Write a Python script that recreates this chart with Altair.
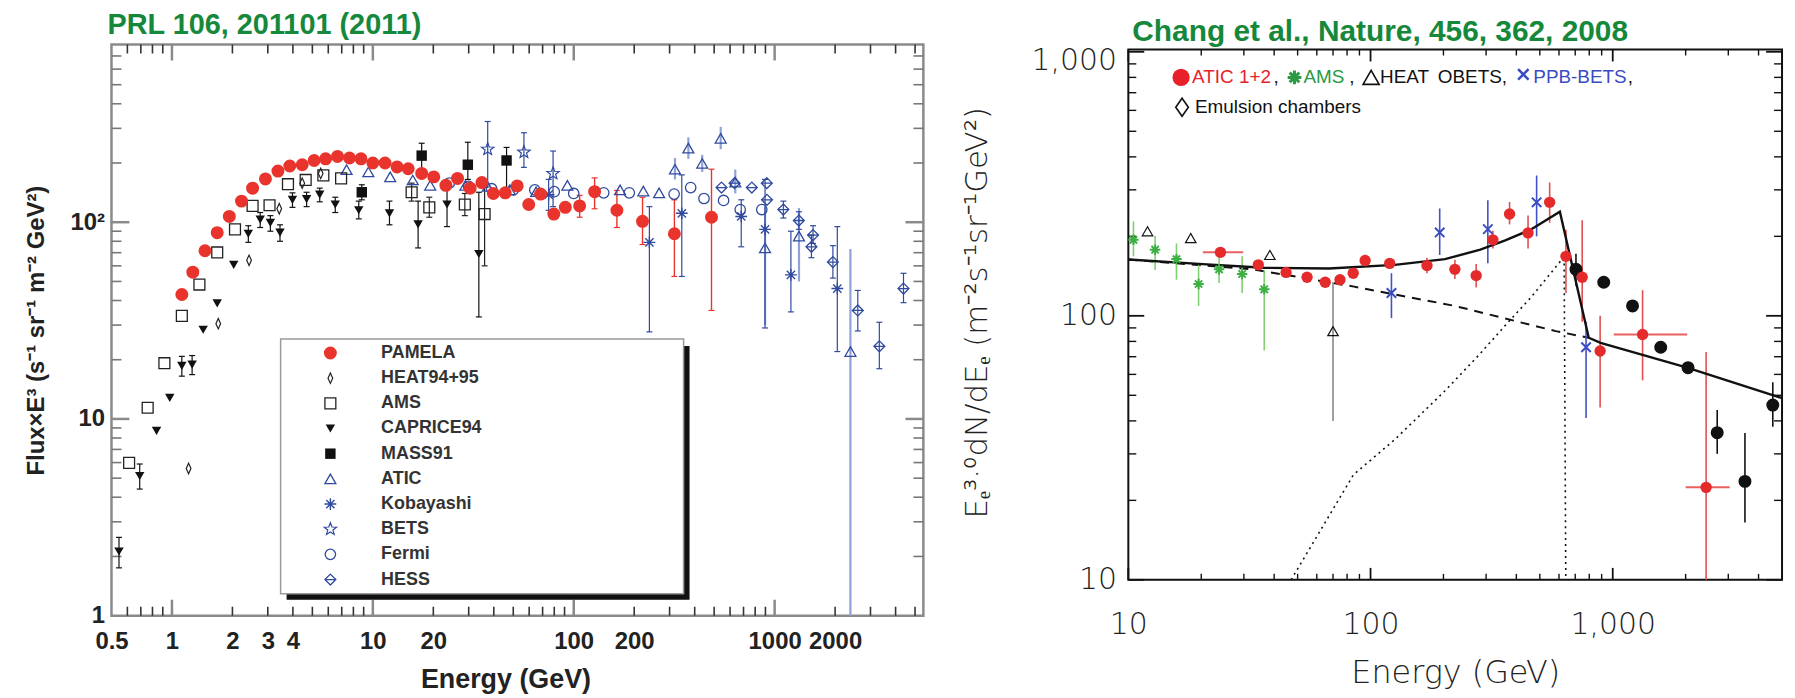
import math
import altair as alt
import pandas as pd

# ---------------- LEFT PANEL DATA (PRL 106, 201101) ----------------
pamela_E = [1.12, 1.27, 1.46, 1.68, 1.93, 2.22, 2.52, 2.92, 3.37, 3.86, 4.45, 5.10, 5.82, 6.67, 7.65, 8.73,
            10.0, 11.5, 13.2, 15.0, 17.5, 20.1, 23.1, 26.4, 30.5, 34.9, 39.8, 45.6, 52.3, 59.7, 68.4, 79.6,
            90.8, 107, 127, 164, 220, 317, 485]
pamela_F = [42.9, 55.7, 71.6, 88.5, 107, 128, 149, 166, 182, 193, 196, 206, 210, 216, 212, 210,
            200, 200, 191, 187, 177, 170, 154, 167, 149, 159, 140, 141, 153, 123, 139, 110,
            119, 121, 143, 115, 101, 87.4, 106]
pamela_errE = [107, 127, 164, 220, 317, 485]
pamela_errLo = [106, 117, 94, 77, 53, 35.6]
pamela_errHi = [137, 168, 145, 134, 130, 186]

heat_E = [1.21, 1.70, 2.42, 3.42, 4.45, 5.5]
heat_F = [5.6, 30.5, 64, 117, 158, 177]

ams_E = [0.612, 0.757, 0.917, 1.12, 1.37, 1.68, 2.06, 2.52, 3.06, 3.78, 4.63, 5.67, 6.95, 15.6, 19.1, 28.7, 36.0]
ams_F = [5.98, 11.4, 19.2, 33.4, 48.2, 70.2, 91.9, 121, 122, 156, 164, 173, 167, 142, 119, 123, 110]
ams_errE = [15.6, 19.1, 28.7, 36.0]
ams_errLo = [128, 106, 108, 60]
ams_errHi = [158, 134, 140, 150]

caprice_E = [0.545, 0.691, 0.838, 0.975, 1.12, 1.26, 1.43, 1.68, 2.03, 2.40, 2.75, 3.09, 3.45, 3.98, 4.68,
             5.44, 6.50, 8.51, 12.1, 16.8, 23.4, 33.7]
caprice_F = [2.12, 5.13, 8.7, 12.8, 18.6, 18.9, 28.4, 38.7, 60.7, 87.4, 103, 99.3, 88.5, 130, 131,
             138, 123, 115, 111, 97.5, 123, 68.9]
caprice_errE = [0.545, 0.691, 1.12, 1.26, 2.40, 2.75, 3.09, 3.45, 3.98, 4.68, 5.44, 6.50, 8.51, 12.1, 16.8, 23.4, 33.7]
caprice_errLo = [1.75, 4.4, 16.5, 16.8, 79, 94, 90, 80, 119, 120, 127, 112, 104, 97, 74, 95, 33]
caprice_errHi = [2.5, 5.9, 20.8, 21.0, 96, 112, 108, 97, 141, 142, 149, 134, 128, 128, 128, 160, 142]

mass_E = [8.81, 17.5, 29.7, 46.3]
mass_F = [142, 218, 196, 206]
mass_errLo = [130, 182, 165, 150]
mass_errHi = [155, 252, 255, 240]

atic_E = [7.4, 9.5, 12.2, 15.8, 19.3, 28.9, 37.3, 48, 65, 93, 170, 222, 266, 319, 372, 436, 539, 637,
          896, 1322, 2384]
atic_F = [185, 180, 170, 164, 154, 154, 152, 146, 143, 154, 146, 144, 141, 186, 238, 199, 267, 160,
          74, 85, 22]
atic_errE = [319, 372, 436, 539, 637, 896, 1322, 2384]
atic_errLo = [165, 210, 180, 235, 140, 30, 50, 1]
atic_errHi = [212, 270, 220, 305, 185, 120, 118, 73]

koba_E = [75, 238, 345, 682, 896, 1205, 2051]
koba_F = [138, 79, 111, 107, 92, 54, 46]
koba_errLo = [115, 27.7, 53, 75, 29, 35, 22]
koba_errHi = [165, 120, 174, 130, 165, 90, 95]

bets_E = [37.3, 56.5, 78.9]
bets_F = [235, 227, 177]
bets_errLo = [151, 190, 120]
bets_errHi = [325, 285, 230]

fermi_E = [24, 30, 39, 50, 64, 80, 100, 141, 189, 316, 382, 445, 557, 674, 863]
fermi_F = [158, 152, 148, 146, 146, 143, 140, 141, 141, 139, 150, 132, 129, 116, 116]

hess_E = [544, 632, 770, 914, 916, 1105, 1320, 1525, 1553, 1950, 2594, 3320, 4380]
hess_F = [150, 158, 150, 158, 130, 116, 102, 75, 86, 62.7, 35.6, 23.4, 46]
hess_errE = [1105, 1320, 1525, 1553, 1950, 2594, 3320, 4380]
hess_errLo = [105, 92, 66, 78, 52, 28, 18, 39]
hess_errHi = [128, 113, 86, 96, 76, 45, 31, 55]

left_x_labels = [0.5, 1, 2, 3, 4, 10, 20, 100, 200, 1000, 2000]
left_y_labels = [1, 10, 100]
left_x_major = [1, 10, 100, 1000]
left_x_minor = [0.6, 0.7, 0.8, 0.9, 2, 3, 4, 5, 6, 7, 8, 9, 20, 30, 40, 50, 60, 70, 80, 90,
                200, 300, 400, 500, 600, 700, 800, 900, 2000, 3000, 4000, 5000]
left_y_major = [10, 100]
left_y_minor = [2, 3, 4, 5, 6, 7, 8, 9, 20, 30, 40, 50, 60, 70, 80, 90, 200, 300, 400, 500, 600, 700]
legend_names = ["PAMELA", "HEAT94+95", "AMS", "CAPRICE94", "MASS91", "ATIC", "Kobayashi", "BETS", "Fermi", "HESS"]

# ---------------- RIGHT PANEL DATA (Chang et al. 2008) ----------------
atic12_E = [24.0, 34.4, 44.8, 54.7, 65.0, 74.8, 84.8, 95.0, 120, 171, 223, 273, 320, 375, 447, 549, 641, 748,
            887, 1328, 2430]
atic12_F = [174, 156, 146, 140, 134, 137, 145, 162, 158, 155, 150, 142, 194, 243, 206, 269, 168, 140,
            73.6, 85, 22.4]
atic12_errE = [171, 223, 273, 320, 375, 447, 549, 641, 748, 887, 1328, 2430]
atic12_errLo = [145, 138, 128, 180, 222, 180, 225, 122, 95, 45, 57, 10]
atic12_errHi = [166, 163, 157, 210, 270, 240, 320, 212, 230, 100, 125, 73]
atic12_hE = [24.0, 1328, 2430]
atic12_hF = [174, 85, 22.4]
atic12_hLo = [20.3, 1010, 2000]
atic12_hHi = [29.8, 2030, 3040]

emul_E = [705, 918, 1207, 1578, 2046, 2700, 3515, 4580]
emul_F = [150, 134, 109, 76, 63.6, 36.1, 23.6, 45.9]
emul_errE = [705, 2700, 3515, 4580]
emul_errLo = [130, 30, 16.5, 38]
emul_errHi = [172, 44, 36, 56]

amsR_E = [10.5, 12.9, 15.8, 19.5, 23.7, 29.5, 36.4]
amsR_F = [194, 178, 164, 132, 150, 144, 126]
amsR_errLo = [168, 149, 137, 109, 133, 122, 74]
amsR_errHi = [228, 201, 188, 158, 176, 168, 149]

heatR_E = [12.0, 18.1, 38.4, 70.0]
heatR_F = [209, 197, 170, 87.5]
heatR_errE = [70.0]
heatR_errLo = [40]
heatR_errHi = [134]

ppb_E = [122, 193, 305, 485, 776]
ppb_F = [122, 207, 213, 269, 76]
ppb_errLo = [98, 170, 158, 200, 41]
ppb_errHi = [145, 255, 274, 340, 95]

fit_E = [10, 20.3, 36.1, 67.3, 126, 203, 284, 360, 458, 605, 796, 891, 2028, 5000]
fit_F = [163.5, 157, 152, 151, 156, 164, 178, 193, 212, 248, 82.6, 79, 63.7, 48.8]
bkg_E = [10, 32.7, 85.5, 223, 582, 796]
bkg_F = [163.5, 150, 129, 109, 87.5, 82.6]
src_E = [47, 85, 126, 203, 284, 360, 458, 605, 630, 640]
src_F = [10, 25, 34, 52, 72, 92, 117, 160, 165, 10]

right_labels = [10, 100, 1000]
right_x_major = [10, 100, 1000]
right_x_minor = [20, 30, 40, 50, 60, 70, 80, 90, 200, 300, 400, 500, 600, 700, 800, 900, 2000, 3000, 4000]
right_y_major = [10, 100, 1000]
right_y_minor = [20, 30, 40, 50, 60, 70, 80, 90, 200, 300, 400, 500, 600, 700, 800, 900]

# ---------------- STYLE ----------------
RED = "#e8342c"
BLUE = "#2f4a9e"
LBLUE = "#8fa2d8"
GREEN_T = "#16883c"
BOLD_FONT = "Liberation Sans"
THIN_FONT = "DejaVu Sans"

ASTER = "M-1,0L1,0M0,-1L0,1M-0.7,-0.7L0.7,0.7M-0.7,0.7L0.7,-0.7"
XMARK = "M-1,-1L1,1M-1,1L1,-1"
DIAM_N = "M0,-1L0.45,0L0,1L-0.45,0Z"
HESS_SYM = "M0,-1L1,0L0,1L-1,0ZM-1,0L1,0"
DIAM = "M0,-1L0.7,0L0,1L-0.7,0Z"


def star_path():
    pts = []
    for k in range(10):
        r = 1.0 if k % 2 == 0 else 0.42
        a = -math.pi / 2 + k * math.pi / 5
        pts.append(f"{r*math.cos(a):.3f},{r*math.sin(a):.3f}")
    return "M" + "L".join(pts) + "Z"


STAR = star_path()

W1, H1 = 816, 574
# right panel: frame starts TOP2 px below the panel origin so both panels share one origin row
W2, H2, TOP2 = 657, 533, 5
H2T = H2 + TOP2
Y2_TOP = 1020 * 10 ** (TOP2 * math.log10(1020 / 10) / H2)
ONE = pd.DataFrame({"a": [0]})

P1 = dict(
    xs=alt.Scale(type="log", domain=[0.5, 5500], nice=False),
    ys=alt.Scale(type="log", domain=[1, 800], nice=False),
    ax=alt.Axis(values=left_x_labels, format="~g", labelOverlap=False, labelFlush=False, ticks=False,
                tickSize=0, domain=False, grid=False, labelFont=BOLD_FONT, labelFontSize=24,
                labelFontWeight="bold", labelColor="#222", labelPadding=14, title="Energy (GeV)",
                titleFont=BOLD_FONT, titleFontSize=27, titleFontWeight="bold", titleColor="#222",
                titlePadding=13, titleX=396),
    ay=alt.Axis(values=left_y_labels, format="~g", labelExpr="datum.value == 100 ? '10²' : datum.label",
                labelOverlap=False, labelFlush=False, ticks=False, tickSize=0, domain=False, grid=False,
                labelFont=BOLD_FONT, labelFontSize=24, labelFontWeight="bold", labelColor="#222",
                labelPadding=7, title="Flux×E³ (s⁻¹ sr⁻¹ m⁻² GeV²)", titleFont=BOLD_FONT,
                titleFontSize=24, titleFontWeight="bold", titleColor="#222", titlePadding=22),
)
P2 = dict(
    xs=alt.Scale(type="log", domain=[10, 5000], nice=False),
    ys=alt.Scale(type="log", domain=[10, Y2_TOP], nice=False),
    ax=alt.Axis(values=right_labels, format=",", labelOverlap=False, labelFlush=False, ticks=False,
                tickSize=0, domain=False, grid=False, labelFont=THIN_FONT, labelFontSize=30,
                labelFontWeight=300, labelColor="#222", labelPadding=30, title="Energy  (GeV)",
                titleFont=THIN_FONT, titleFontSize=32, titleFontWeight=300, titleColor="#222",
                titlePadding=18),
    ay=alt.Axis(values=right_labels, format=",", labelOverlap=False, labelFlush=False, ticks=False,
                tickSize=0, domain=False, grid=False, labelFont=THIN_FONT, labelFontSize=30,
                labelFontWeight=300, labelColor="#222", labelPadding=12,
                labelOffset={"condition": {"test": "datum.value >= 1000", "value": 9}, "value": 0},
                title="Eₑ³·⁰dN/dEₑ  (m⁻²s⁻¹sr⁻¹GeV²)", titleFont=THIN_FONT, titleFontSize=31,
                titleFontWeight=300, titleColor="#222", titlePadding=38),
)


def X(P, f):
    return alt.X(f + ":Q", scale=P["xs"], axis=P["ax"])


def Y(P, f):
    return alt.Y(f + ":Q", scale=P["ys"], axis=P["ay"])


styles_left = {
    "PAMELA": dict(shape="circle", size=170, filled=True, color=RED, strokeWidth=0),
    "HEAT94+95": dict(shape=DIAM_N, size=110, filled=False, color="#222", strokeWidth=1.2),
    "AMS": dict(shape="square", size=120, filled=False, color="#222", strokeWidth=1.3),
    "CAPRICE94": dict(shape="triangle-down", size=90, filled=True, color="#111", strokeWidth=0),
    "MASS91": dict(shape="square", size=110, filled=True, color="#111", strokeWidth=0),
    "ATIC": dict(shape="triangle-up", size=120, filled=False, color=BLUE, strokeWidth=1.3),
    "Kobayashi": dict(shape=ASTER, size=140, filled=False, color=BLUE, strokeWidth=1.4),
    "BETS": dict(shape=STAR, size=170, filled=False, color=BLUE, strokeWidth=1.2),
    "Fermi": dict(shape="circle", size=110, filled=False, color=BLUE, strokeWidth=1.3),
    "HESS": dict(shape=HESS_SYM, size=120, filled=False, color=BLUE, strokeWidth=1.3),
}


def pts(P, E, F, st):
    return alt.Chart(pd.DataFrame({"E": E, "F": F})).mark_point(opacity=1, **st).encode(
        x=X(P, "E"), y=Y(P, "F"))


def vbars(P, E, lo, hi, color, width=1.2, caps=False):
    base = alt.Chart(pd.DataFrame({"E": E, "lo": lo, "hi": hi}))
    out = [base.mark_rule(color=color, strokeWidth=width).encode(x=X(P, "E"), y=Y(P, "lo"), y2="hi:Q")]
    if caps:
        for f in ("lo", "hi"):
            out.append(base.mark_tick(orient="horizontal", size=6, thickness=1.2, color=color, opacity=1).encode(
                x=X(P, "E"), y=Y(P, f)))
    return out


def hbars(P, F, lo, hi, color, width=1.5):
    base = alt.Chart(pd.DataFrame({"F": F, "lo": lo, "hi": hi}))
    return [base.mark_rule(color=color, strokeWidth=width).encode(y=Y(P, "F"), x=X(P, "lo"), x2="hi:Q")]


def xticks(P, vals, top, bottom, length, color, width):
    base = alt.Chart(pd.DataFrame({"v": vals}))
    return [base.mark_rule(color=color, strokeWidth=width).encode(x=X(P, "v"), y=alt.value(bottom), y2=alt.value(bottom - length)),
            base.mark_rule(color=color, strokeWidth=width).encode(x=X(P, "v"), y=alt.value(top), y2=alt.value(top + length))]


def yticks(P, vals, W, length, color, width):
    base = alt.Chart(pd.DataFrame({"v": vals}))
    return [base.mark_rule(color=color, strokeWidth=width).encode(y=Y(P, "v"), x=alt.value(0), x2=alt.value(length)),
            base.mark_rule(color=color, strokeWidth=width).encode(y=Y(P, "v"), x=alt.value(W), x2=alt.value(W - length))]


def fixed_point(x, y, **st):
    return alt.Chart(ONE).mark_point(opacity=1, **st).encode(x=alt.value(x), y=alt.value(y))


def fixed_text(x, y, txt, **st):
    return alt.Chart(ONE).mark_text(align="left", baseline="middle", **st).encode(
        x=alt.value(x), y=alt.value(y), text=alt.value(txt))


# ---------------- LEFT PANEL ----------------
L = []
L.append(alt.Chart(ONE).mark_rect(fill="white", fillOpacity=0, stroke="#8a8a8a", strokeWidth=2.5).encode(
    x=alt.value(0), x2=alt.value(W1), y=alt.value(0), y2=alt.value(H1)))
L += xticks(P1, left_x_major, 0, H1, 16, "#8a8a8a", 2.5)
L += xticks(P1, left_x_minor, 0, H1, 9, "#333", 1.6)
L += yticks(P1, left_y_major, W1, 18, "#8a8a8a", 2.5)
L += yticks(P1, left_y_minor, W1, 10, "#777", 1.6)
L += vbars(P1, atic_errE, atic_errLo, atic_errHi, LBLUE, 2.2)
L += vbars(P1, hess_errE, hess_errLo, hess_errHi, BLUE, 1.2, caps=True)
L += vbars(P1, koba_E, koba_errLo, koba_errHi, BLUE, 1.2, caps=True)
L += vbars(P1, bets_E, bets_errLo, bets_errHi, BLUE, 1.2, caps=True)
L += vbars(P1, ams_errE, ams_errLo, ams_errHi, "#222", 1.2, caps=True)
L += vbars(P1, caprice_errE, caprice_errLo, caprice_errHi, "#111", 1.2, caps=True)
L += vbars(P1, mass_E, mass_errLo, mass_errHi, "#111", 1.2, caps=True)
L += vbars(P1, pamela_errE, pamela_errLo, pamela_errHi, RED, 1.4, caps=True)
L.append(pts(P1, fermi_E, fermi_F, styles_left["Fermi"]))
L.append(pts(P1, hess_E, hess_F, styles_left["HESS"]))
L.append(pts(P1, atic_E, atic_F, styles_left["ATIC"]))
L.append(pts(P1, koba_E, koba_F, styles_left["Kobayashi"]))
L.append(pts(P1, bets_E, bets_F, styles_left["BETS"]))
L.append(pts(P1, ams_E, ams_F, styles_left["AMS"]))
L.append(pts(P1, heat_E, heat_F, styles_left["HEAT94+95"]))
L.append(pts(P1, caprice_E, caprice_F, styles_left["CAPRICE94"]))
L.append(pts(P1, mass_E, mass_F, styles_left["MASS91"]))
L.append(pts(P1, pamela_E, pamela_F, styles_left["PAMELA"]))
BX0, BY0, BX1, BY1 = 170, 296, 575, 552
L.append(alt.Chart(ONE).mark_rect(color="#111").encode(
    x=alt.value(BX0 + 6), x2=alt.value(BX1 + 6), y=alt.value(BY0 + 7), y2=alt.value(BY1 + 6)))
L.append(alt.Chart(ONE).mark_rect(fill="white", stroke="#9a9a9a", strokeWidth=1.5).encode(
    x=alt.value(BX0), x2=alt.value(BX1), y=alt.value(BY0), y2=alt.value(BY1)))
for i, name in enumerate(legend_names):
    yy = 310 + 25.3 * i
    L.append(fixed_point(220, yy, **styles_left[name]))
    L.append(fixed_text(271, yy, name, font=BOLD_FONT, fontSize=18, fontWeight="bold", color="#333"))

left = alt.layer(*L).properties(
    width=W1, height=H1,
    title=alt.TitleParams("PRL 106, 201101 (2011)", anchor="start", frame="group", dx=-4, offset=3,
                          font=BOLD_FONT, fontSize=29, fontWeight="bold", color=GREEN_T))

# ---------------- RIGHT PANEL ----------------
R = []
R.append(alt.Chart(ONE).mark_rect(fill="white", fillOpacity=0, stroke="#111", strokeWidth=2).encode(
    x=alt.value(0), x2=alt.value(W2), y=alt.value(TOP2), y2=alt.value(H2T)))
R += xticks(P2, right_x_major, TOP2, H2T, 12, "#111", 1.8)
R += xticks(P2, right_x_minor, TOP2, H2T, 6, "#111", 1.4)
R += yticks(P2, right_y_major, W2, 16, "#111", 1.8)
R += yticks(P2, right_y_minor, W2, 8, "#111", 1.4)


def line(E, F, **kw):
    d = pd.DataFrame({"E": E, "F": F, "i": list(range(len(E)))})
    return alt.Chart(d).mark_line(color="#111", **kw).encode(x=X(P2, "E"), y=Y(P2, "F"), order="i:Q")


R.append(line(src_E, src_F, strokeWidth=1.6, strokeDash=[2, 4]))
R.append(line(bkg_E, bkg_F, strokeWidth=2, strokeDash=[9, 7]))
R += vbars(P2, amsR_E, amsR_errLo, amsR_errHi, "#7fd06f", 1.6)
R += vbars(P2, heatR_errE, heatR_errLo, heatR_errHi, "#777", 1.4)
R += vbars(P2, ppb_E, ppb_errLo, ppb_errHi, "#4052c4", 1.6)
R += vbars(P2, atic12_errE, atic12_errLo, atic12_errHi, "#e05050", 1.6)
R += hbars(P2, atic12_hF, atic12_hLo, atic12_hHi, "#e86060", 2)
R += vbars(P2, emul_errE, emul_errLo, emul_errHi, "#111", 1.6)
R.append(line(fit_E, fit_F, strokeWidth=2.4))
R.append(pts(P2, amsR_E, amsR_F, dict(shape=ASTER, size=110, filled=False, color="#3cb043", strokeWidth=2)))
R.append(pts(P2, heatR_E, heatR_F, dict(shape="triangle-up", size=110, filled=False, color="#111", strokeWidth=1.2)))
R.append(pts(P2, ppb_E, ppb_F, dict(shape=XMARK, size=90, filled=False, color="#3a4cc4", strokeWidth=2)))
R.append(pts(P2, emul_E, emul_F, dict(shape="circle", size=170, filled=True, color="#111", strokeWidth=0)))
R.append(pts(P2, atic12_E, atic12_F, dict(shape="circle", size=130, filled=True, color="#e42a2a", strokeWidth=0)))

LY1, LY2 = 28 + TOP2, 58 + TOP2
R.append(fixed_point(53, LY1, shape="circle", size=300, filled=True, color="#e8202a"))
R.append(fixed_point(167, LY1, shape=ASTER, size=190, filled=False, color="#2a9a44", strokeWidth=3))
R.append(fixed_point(244, LY1, shape="triangle-up", size=260, filled=False, color="#111", strokeWidth=1.6))
R.append(fixed_point(397, LY1 - 3, shape=XMARK, size=110, filled=False, color="#3a4cc4", strokeWidth=2.6))
R.append(fixed_point(54, LY2, shape=DIAM, size=330, filled=False, color="#111", strokeWidth=1.6))
segs = [("ATIC 1+2", 64, "#e8202a", LY1), (",", 146, "#111", LY1), ("AMS", 176, "#2a9a44", LY1),
        (",", 222, "#111", LY1), ("HEAT", 253, "#111", LY1), ("OBETS,", 311, "#111", LY1),
        ("PPB-BETS", 407, "#3a4cc4", LY1), (",", 502, "#111", LY1),
        ("Emulsion chambers", 67, "#111", LY2)]
for txt, xx, col, yy in segs:
    R.append(fixed_text(xx, yy, txt, font=BOLD_FONT, fontSize=19, color=col))

right = alt.layer(*R).properties(
    width=W2, height=H2T,
    title=alt.TitleParams("Chang et al., Nature, 456, 362, 2008", anchor="start", frame="group", dx=4,
                          dy=3, offset=1, font=BOLD_FONT, fontSize=30, fontWeight="bold", color=GREEN_T))

chart = alt.hconcat(left, right, spacing=36).properties(
    padding={"left": 16, "top": 1, "right": 0, "bottom": 0}
).configure_view(stroke=None)

chart.save("out.html", embed_options={"renderer": "svg", "actions": False})
